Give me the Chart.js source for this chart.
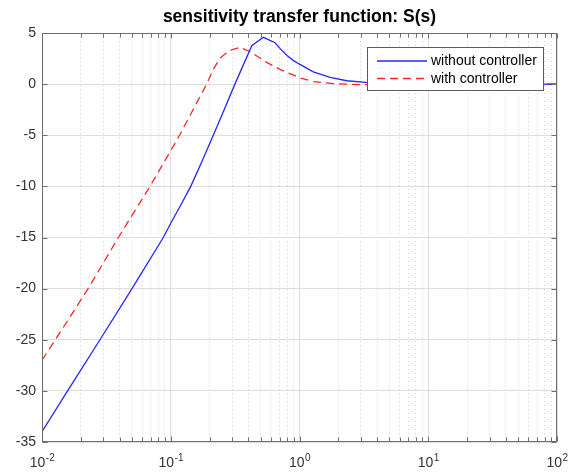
<!DOCTYPE html>
<html>
<head>
<meta charset="utf-8">
<script src="https://cdn.jsdelivr.net/npm/chart.js@4.4.1/dist/chart.umd.min.js"></script>
<style>
  html, body { margin: 0; padding: 0; background: #fff; }
  #wrap { width: 571px; height: 474px; position: relative; }
</style>
</head>
<body>
<div id="wrap"><canvas id="sChart"></canvas></div>
<script>
const titleText = "sensitivity transfer function: S(s)";
const seriesNames = ["without controller", "with controller"];

// frequency (rad/s) and magnitude (dB)
const freqWithout = [0.01, 0.0158, 0.0282, 0.05, 0.0875, 0.1, 0.12, 0.143, 0.177, 0.214, 0.26, 0.315, 0.426, 0.524, 0.646, 0.705, 0.8, 0.9, 1.0, 1.28, 1.73, 2.33, 3.3, 5, 10, 30, 100];
const magWithout = [-34.0, -30.0, -25.0, -20.0, -15.0, -13.6, -11.8, -10.0, -7.4, -5.0, -2.5, 0.0, 3.76, 4.58, 4.05, 3.5, 2.8, 2.3, 1.95, 1.2, 0.66, 0.33, 0.17, 0.08, 0.02, 0.0, 0.0];

const freqWith = [0.01, 0.0127, 0.0228, 0.0392, 0.069, 0.1, 0.117, 0.19, 0.214, 0.241, 0.27, 0.297, 0.345, 0.413, 0.556, 0.705, 0.794, 1.0, 1.28, 2.0, 3.0, 5.0, 10, 100];
const magWith = [-27.0, -25.0, -20.0, -15.0, -10.0, -6.5, -5.0, 0.0, 1.45, 2.52, 3.05, 3.34, 3.6, 3.17, 2.13, 1.45, 1.15, 0.63, 0.24, 0.02, -0.05, -0.03, 0.0, 0.0];

// axes
const xDecades = [0.01, 0.1, 1, 10, 100];
const xTickExp = ["-2", "-1", "0", "1", "2"];
const yMin = -35, yMax = 5, yStep = 5;

const axisColor = "#6e6e6e";
const textColor = "#333333";
const fontFamily = "'Liberation Sans', Arial, Helvetica, sans-serif";

const isDecade = v => Math.abs(Math.log10(v) - Math.round(Math.log10(v))) < 1e-9;

function toPoints(xs, ys) {
  return xs.map((v, i) => ({ x: v, y: ys[i] }));
}

// frame, inward ticks, x labels with exponents, title and boxed legend
const matlabFrame = {
  id: "matlabFrame",
  afterDatasetsDraw(chart) {
    const { ctx, chartArea: a, scales: { x, y } } = chart;
    const L = Math.round(a.left) + 0.5, R = Math.round(a.right) - 0.5;
    const T = Math.round(a.top) + 0.5, B = Math.round(a.bottom) - 0.5;
    ctx.save();

    ctx.strokeStyle = axisColor;
    ctx.lineWidth = 1;
    ctx.beginPath();
    x.ticks.forEach(t => {
      const px = Math.round(x.getPixelForValue(t.value)) + 0.5;
      const len = isDecade(t.value) ? 5 : 4;
      ctx.moveTo(px, B); ctx.lineTo(px, B - len);
      ctx.moveTo(px, T); ctx.lineTo(px, T + len);
    });
    y.ticks.forEach(t => {
      const py = Math.round(y.getPixelForValue(t.value)) + 0.5;
      ctx.moveTo(L, py); ctx.lineTo(L + 5, py);
      ctx.moveTo(R, py); ctx.lineTo(R - 5, py);
    });
    ctx.stroke();
    ctx.strokeRect(L, T, R - L, B - T);

    // x tick labels 10^n
    ctx.fillStyle = textColor;
    ctx.textBaseline = "alphabetic";
    ctx.textAlign = "left";
    xDecades.forEach((v, i) => {
      const px = x.getPixelForValue(v);
      ctx.font = "14px " + fontFamily;
      const w1 = ctx.measureText("10").width;
      ctx.font = "10px " + fontFamily;
      const w2 = ctx.measureText(xTickExp[i]).width;
      const start = px - (w1 + w2) / 2;
      ctx.font = "14px " + fontFamily;
      ctx.fillText("10", start, 467);
      ctx.font = "10px " + fontFamily;
      ctx.fillText(xTickExp[i], start + w1 + 0.5, 461);
    });

    // title
    ctx.fillStyle = "#000";
    ctx.font = "bold 17.5px " + fontFamily;
    ctx.textAlign = "center";
    ctx.fillText(titleText, (a.left + a.right) / 2, 22);

    // legend
    const bx = 367.5, by = 47.5, bw = 176, bh = 43;
    ctx.fillStyle = "#fff";
    ctx.fillRect(bx, by, bw, bh);
    ctx.strokeStyle = "#5a5a5a";
    ctx.strokeRect(bx, by, bw, bh);
    ctx.textAlign = "left";
    ctx.textBaseline = "middle";
    ctx.font = "14px " + fontFamily;
    chart.data.datasets.forEach((ds, i) => {
      const ly = 61 + i * 17.5;
      ctx.strokeStyle = ds.borderColor;
      ctx.lineWidth = ds.borderWidth;
      ctx.setLineDash(ds.borderDash || []);
      ctx.beginPath();
      ctx.moveTo(377, ly); ctx.lineTo(427, ly);
      ctx.stroke();
      ctx.setLineDash([]);
      ctx.fillStyle = "#000";
      ctx.fillText(ds.label, 431, ly + 0.5);
    });
    ctx.restore();
  }
};

new Chart(document.getElementById("sChart"), {
  type: "scatter",
  data: {
    datasets: [{
      label: seriesNames[0],
      data: toPoints(freqWithout, magWithout),
      showLine: true,
      borderColor: "#2626ff",
      borderWidth: 1.3,
      pointRadius: 0,
      tension: 0
    }, {
      label: seriesNames[1],
      data: toPoints(freqWith, magWith),
      showLine: true,
      borderColor: "#ff2626",
      borderWidth: 1.3,
      borderDash: [8, 5],
      pointRadius: 0,
      tension: 0
    }]
  },
  options: {
    responsive: true,
    maintainAspectRatio: false,
    animation: false,
    devicePixelRatio: 1,
    layout: { padding: { top: 33, right: 14, bottom: 0, left: 0 } },
    plugins: {
      legend: { display: false },
      title: { display: false },
      tooltip: { enabled: false }
    },
    scales: {
      x: {
        type: "logarithmic",
        min: 0.01,
        max: 100,
        afterBuildTicks: scale => {
          const ticks = [];
          xDecades.forEach(d => {
            for (let k = 1; k <= 9; k++) {
              const v = d * k;
              if (v <= 100 + 1e-9) ticks.push({ value: v });
            }
          });
          scale.ticks = ticks;
        },
        afterFit: scale => { scale.height = 32; },
        ticks: { display: false, autoSkip: false },
        border: {
          display: false,
          dash: ctx => (ctx.tick && isDecade(ctx.tick.value)) ? [] : [1, 3]
        },
        grid: {
          drawTicks: false,
          lineWidth: 1,
          color: ctx => (ctx.tick && isDecade(ctx.tick.value)) ? "#dedede" : "#d2d2d2"
        }
      },
      y: {
        min: yMin,
        max: yMax,
        afterFit: scale => { scale.width = 42; },
        ticks: {
          stepSize: yStep,
          color: textColor,
          padding: 6,
          font: { family: fontFamily, size: 14 }
        },
        border: { display: false },
        grid: { drawTicks: false, color: "#dedede", lineWidth: 1 }
      }
    }
  },
  plugins: [matlabFrame]
});
</script>
</body>
</html>
